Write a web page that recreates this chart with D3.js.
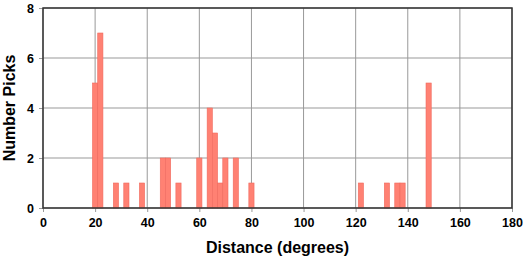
<!DOCTYPE html>
<html>
<head>
<meta charset="utf-8">
<script src="https://cdn.jsdelivr.net/npm/d3@7"></script>
<style>
body { margin: 0; background: #fff; }
text { font-family: "Liberation Sans", Arial, sans-serif; font-weight: bold; fill: #000; }
</style>
</head>
<body>
<svg id="chart"></svg>
<script>
// histogram bins (centre of 2-degree bin) and pick counts
let binCenters = [20, 22, 28, 32, 38, 46, 48, 52, 60, 64, 66, 68, 70, 74, 80, 122, 132, 136, 138, 148];
let counts =     [5,  7,  1,  1,  1,  2,  2,  1,  2,  4,  3,  1,  2,  2,  1,  1,   1,   1,   1,   5];
let xTicks = [0, 20, 40, 60, 80, 100, 120, 140, 160, 180];
let yTicks = [0, 2, 4, 6, 8];
let binWidth = 2;

let W = 523, H = 258;
let margin = { top: 8, right: 11, bottom: 50, left: 43 };
let width = W - margin.left - margin.right;
let height = H - margin.top - margin.bottom;

let svg = d3.select('#chart').attr('width', W).attr('height', H);
let g = svg.append('g').attr('transform', 'translate(' + margin.left + ',' + margin.top + ')');

let x = d3.scaleLinear().domain([0, 180]).range([0, width]);
let y = d3.scaleLinear().domain([0, 8]).range([height, 0]);

// grid
g.selectAll('.gx').data(xTicks).enter().append('line')
	.attr('x1', d => x(d)).attr('x2', d => x(d))
	.attr('y1', 0).attr('y2', height)
	.style('stroke', '#999').style('stroke-width', 1);
g.selectAll('.gy').data(yTicks).enter().append('line')
	.attr('x1', 0).attr('x2', width)
	.attr('y1', d => y(d)).attr('y2', d => y(d))
	.style('stroke', '#999').style('stroke-width', 1);

// bars
let bars = binCenters.map((c, i) => ({ c: c, n: counts[i] }));
g.selectAll('.bar').data(bars).enter().append('rect')
	.attr('x', d => x(d.c - binWidth / 2))
	.attr('width', d => x(binWidth) - x(0))
	.attr('y', d => y(d.n))
	.attr('height', d => y(0) - y(d.n))
	.style('fill', '#ff8173')
	.style('stroke', '#f06a5e')
	.style('stroke-width', 0.6);

// axes
let xAxis = d3.axisBottom(x).tickValues(xTicks).tickSize(4).tickPadding(6);
let yAxis = d3.axisLeft(y).tickValues(yTicks).tickSize(4).tickPadding(5);

let gx = g.append('g').attr('transform', 'translate(0,' + height + ')').call(xAxis);
let gy = g.append('g').call(yAxis);
[gx, gy].forEach(a => {
	a.select('.domain').remove();
	a.selectAll('.tick line').style('stroke', '#999');
	a.selectAll('.tick text').style('font-size', '12.5px').style('font-family', '"Liberation Sans", Arial, sans-serif');
});

// frame
g.append('rect')
	.attr('x', 0).attr('y', 0).attr('width', width).attr('height', height)
	.style('fill', 'none').style('stroke', '#333').style('stroke-width', 1.5);

// titles
svg.append('text')
	.attr('x', margin.left + width / 2).attr('y', 253)
	.attr('text-anchor', 'middle')
	.style('font-size', '16px')
	.text('Distance (degrees)');

svg.append('text')
	.attr('transform', 'translate(15,' + (margin.top + height / 2) + ') rotate(-90)')
	.attr('text-anchor', 'middle')
	.style('font-size', '16px')
	.text('Number Picks');
</script>
</body>
</html>
